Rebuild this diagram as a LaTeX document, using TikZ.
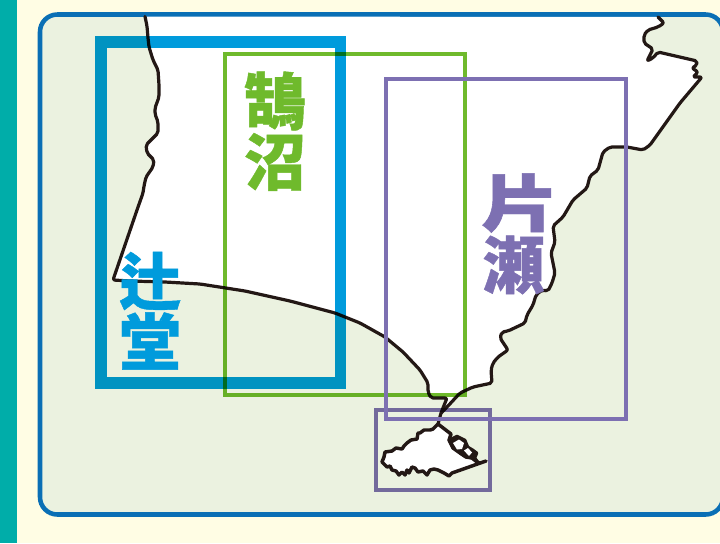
\documentclass[tikz,border=0pt]{standalone}
\usepackage{fontspec}
\newfontfamily\cjkb{Noto Sans CJK JP Black}[Script=CJK,RawFeature={embolden=0.7}]
\definecolor{paper}{HTML}{FFFDE4}
\definecolor{stripc}{HTML}{00ADA9}
\definecolor{framec}{HTML}{0A6FB5}
\definecolor{seac}{HTML}{EBF2E0}
\definecolor{coast}{HTML}{231815}
\definecolor{bluec}{HTML}{009BDC}
\definecolor{greenc}{HTML}{6FBA2C}
\definecolor{purplec}{HTML}{7D70B2}
\tikzset{
  coastline/.style={draw=coast,line width=2.4pt,line join=round,line cap=round,rounded corners=1.5pt},
  islandline/.style={draw=coast,line width=2.6pt,line join=round,line cap=round},
  tsuji/.style={draw=bluec,line width=8.8pt,line join=miter},
  kugenuma/.style={draw=greenc,line width=3pt,line join=miter},
  katase/.style={draw=purplec,line width=3pt,line join=miter},
  bigname/.style={font=\cjkb\fontsize{46.5}{46.5}\selectfont,inner sep=0pt,anchor=center}
}
\begin{document}
\begin{tikzpicture}[x=0.75pt,y=-0.75pt]
\useasboundingbox (0,0) rectangle (720,543);
\fill[paper] (0,0) rectangle (720,543);
\fill[stripc] (0,0) rectangle (16.5,543);
\begin{scope}
\clip (0,0) rectangle (720,543);
\draw[draw=framec,fill=seac,line width=3.4pt,rounded corners=13pt] (40,14.5) rectangle (723,514.5);
\end{scope}
% land
\fill[white] (145,16.5) -- (147,26) -- (148,38) -- (149,47) -- (153,60) -- (158,70) -- (159,85) -- (159,97) -- (155,108) -- (155,114) -- (158,122) -- (158,133) -- (152,139) -- (146,145) -- (147,153) -- (154,160) -- (153,167) -- (146,177) -- (144,186) -- (143,193) -- (137,210) -- (125,245) -- (113,280)
 -- (130,281) -- (165,282) -- (200,284) -- (245,291) -- (290,301) -- (335,313) -- (360,323) -- (385,337) -- (403,352) -- (420,370) -- (428,383) -- (428,392) -- (431,398) -- (447,398) -- (441,413) -- (447,407) -- (460,393) -- (473,387) -- (492,383) -- (491,370) -- (493,363) -- (498,357) -- (508,350) -- (500,338) -- (502,332) -- (508,331) -- (525,323) -- (527,315) -- (533,305) -- (536,295) -- (542,290) -- (548,291) -- (552,283) -- (555,273) -- (551,253) -- (555,242) -- (553,226) -- (563,217) -- (573,200) -- (587,188) -- (590,176) -- (598,170) -- (603,152) -- (610,147) -- (627,147) -- (643,150) -- (650,145) -- (680,103) -- (702,77) -- (693,77) -- (698,72) -- (692,68) -- (697,65) -- (697,61) -- (658,52) -- (653,58) -- (647,61) -- (653,49) -- (644,43) -- (644,35) -- (648,30) -- (658,27) -- (664,23) -- (658,17) -- cycle;
\draw[coastline] (145,16.5) -- (147,26) -- (148,38) -- (149,47) -- (153,60) -- (158,70) -- (159,85) -- (159,97) -- (155,108) -- (155,114) -- (158,122) -- (158,133) -- (152,139) -- (146,145) -- (147,153) -- (154,160) -- (153,167) -- (146,177) -- (144,186) -- (143,193) -- (137,210) -- (125,245) -- (113,280)
 -- (130,281) -- (165,282) -- (200,284) -- (245,291) -- (290,301) -- (335,313) -- (360,323) -- (385,337) -- (403,352) -- (420,370) -- (428,383) -- (428,392) -- (431,398) -- (447,398) -- (441,413) -- (438,424);
\draw[coastline] (441,413) -- (447,407) -- (460,393) -- (473,387) -- (492,383) -- (491,370) -- (493,363) -- (498,357) -- (508,350) -- (500,338) -- (502,332) -- (508,331) -- (525,323) -- (527,315) -- (533,305) -- (536,295) -- (542,290) -- (548,291) -- (552,283) -- (555,273) -- (551,253) -- (555,242) -- (553,226) -- (563,217) -- (573,200) -- (587,188) -- (590,176) -- (598,170) -- (603,152) -- (610,147) -- (627,147) -- (643,150) -- (650,145) -- (680,103) -- (702,77) -- (693,77) -- (698,72) -- (692,68) -- (697,65) -- (697,61) -- (658,52) -- (653,58) -- (647,61) -- (653,49) -- (644,43) -- (644,35) -- (648,30) -- (658,27) -- (664,23) -- (658,17);
% island
\draw[islandline,fill=white] (438,424) -- (433,429) -- (430,430) -- (424,430) -- (420,433) -- (418,433) -- (417,439) -- (411,440) -- (407,443) -- (404,446) -- (402,449) -- (396,448) -- (392,451) -- (385,452) -- (384,457) -- (382,462) -- (387,467) -- (390,466) -- (392,470) -- (396,471) -- (399,475) -- (402,472) -- (405,475) -- (407,470) -- (409,473) -- (412,467) -- (415,468) -- (418,472) -- (423,471) -- (427,475) -- (430,470) -- (434,469) -- (438,470) -- (444,473) -- (449,476) -- (452,473) -- (486,461) -- (480,463) -- (477,462) -- (472,458) -- (466,457) -- (460,453) -- (453,448) -- (449,440) -- (451,434) -- cycle;
\draw[draw=coast,line width=2pt,line join=round,fill=coast] (449,440) -- (457,436) -- (465,440) -- (468,447) -- (473,450) -- (477,453) -- (475,458) -- (478,462) -- (472,458) -- (466,457) -- (460,453) -- (453,448) -- cycle;
\fill[white] (453,443) -- (459,439.5) -- (464,443) -- (462,449) -- (457,449.5) -- cycle;
\fill[white] (464,450.5) -- (468,448) -- (472,452.5) -- (469,456) -- cycle;
% boxes
\begin{scope}[blend mode=multiply]
\draw[tsuji] (101,42) rectangle (340.5,383);
\draw[kugenuma] (225,54) rectangle (464.5,394.5);
\draw[katase] (376,410) rectangle (489.7,490);
\end{scope}
\draw[katase] (386,79) rectangle (626,418.7);
\node[bigname,text=greenc] (kugenuma1) at (275,101) {鵠};
\node[bigname,text=greenc] (kugenuma2) at (275,162) {沼};
\node[bigname,text=bluec] (tsuji1) at (150,281) {辻};
\node[bigname,text=bluec] (tsuji2) at (150,341) {堂};
\node[bigname,text=purplec,xscale=1.25] (katase1) at (520,203) {片};
\node[bigname,text=purplec] (katase2) at (513.5,265) {瀬};
\end{tikzpicture}
\end{document}
